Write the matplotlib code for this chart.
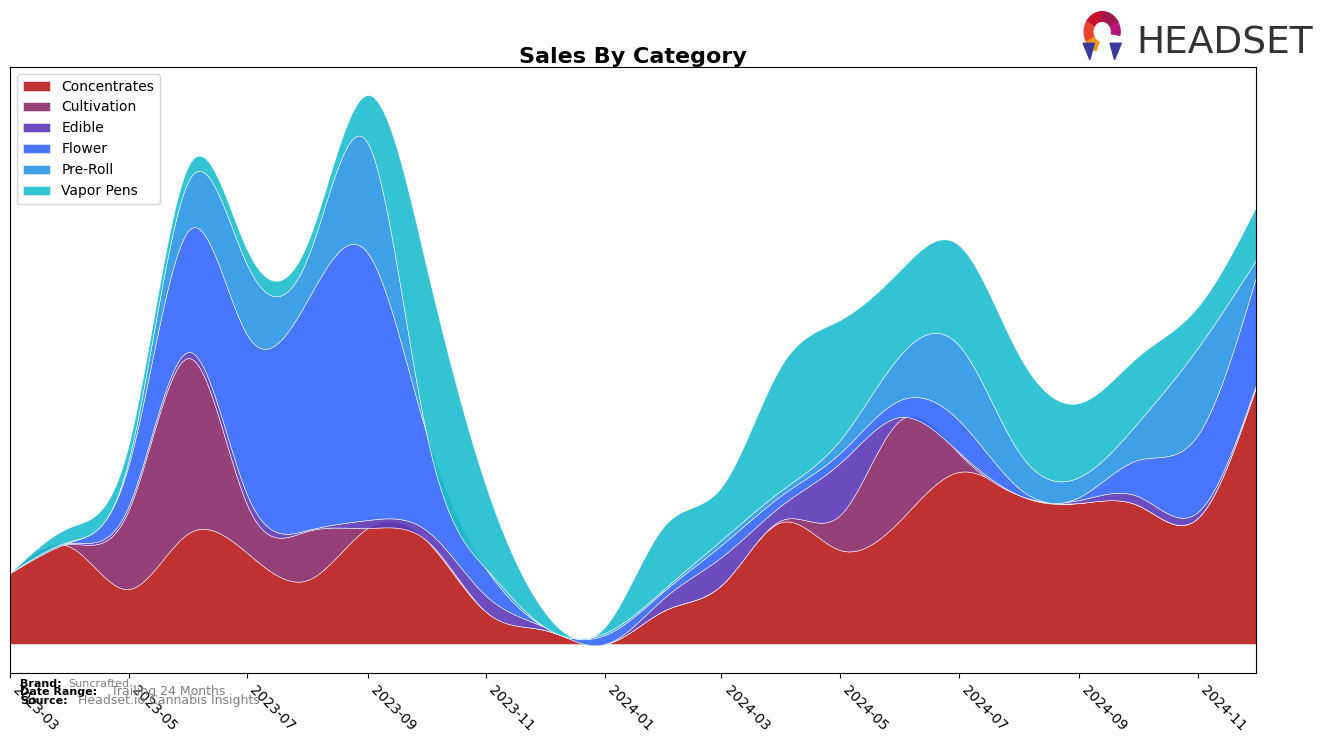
import numpy as np
import pandas as pd
import matplotlib
matplotlib.use("Agg")
import matplotlib.pyplot as plt
import matplotlib.dates as mdates
from matplotlib.patches import Polygon, Wedge

# monthly sales by category (relative units)
months = pd.date_range("2023-03-01", "2024-12-01", freq="MS")
categories = ["Concentrates", "Cultivation", "Edible", "Flower", "Pre-Roll", "Vapor Pens"]
concentrates = [71, 97, 55, 111, 91, 64, 116, 104, 32, 14, 0, 34, 59, 122, 94, 124, 172, 149, 141, 139, 126, 257]
cultivation = [0, 3, 79, 175, 48, 49, 0, 0, 0, 0, 0, 0, 0, 2, 35, 100, 19, 0, 0, 0, 0, 0]
edible = [0, 1, 4, 6, 10, 1, 8, 10, 16, 3, 0, 13, 28, 15, 52, 3, 1, 0, 3, 9, 6, 2]
flower = [0, 1, 41, 122, 160, 230, 267, 98, 27, 0, 9, 7, 12, 10, 10, 17, 32, 7, 3, 36, 77, 108]
pre_roll = [0, 1, 5, 50, 70, 42, 110, 0, 0, 0, 2, 2, 5, 5, 13, 45, 75, 36, 20, 37, 87, 17]
vapor_pens = [0, 14, 15, 15, 15, 15, 48, 167, 82, 15, 6, 63, 53, 125, 120, 85, 100, 97, 74, 66, 41, 53]
series = [concentrates, cultivation, edible, flower, pre_roll, vapor_pens]
colors = ["#B91B1B", "#8A2B69", "#5C38B7", "#3467FF", "#2B96E5", "#1DBDCD"]


def smooth(x, y, n=800):
    """natural cubic spline through the monthly points, for drawing only"""
    x = np.asarray(x, float)
    y = np.asarray(y, float)
    h = np.diff(x)
    k = len(x)
    A = np.zeros((k, k))
    b = np.zeros(k)
    A[0, 0] = A[-1, -1] = 1
    for i in range(1, k - 1):
        A[i, i - 1] = h[i - 1]
        A[i, i] = 2 * (h[i - 1] + h[i])
        A[i, i + 1] = h[i]
        b[i] = 6 * ((y[i + 1] - y[i]) / h[i] - (y[i] - y[i - 1]) / h[i - 1])
    M = np.linalg.solve(A, b)
    xs = np.linspace(x[0], x[-1], n)
    idx = np.clip(np.searchsorted(x, xs) - 1, 0, k - 2)
    x0, x1 = x[idx], x[idx + 1]
    hh = x1 - x0
    ys = (M[idx] * (x1 - xs) ** 3 / (6 * hh) + M[idx + 1] * (xs - x0) ** 3 / (6 * hh)
          + (y[idx] / hh - M[idx] * hh / 6) * (x1 - xs)
          + (y[idx + 1] / hh - M[idx + 1] * hh / 6) * (xs - x0))
    return xs, ys


fig = plt.figure(figsize=(13.2, 7.43), dpi=100)
ax = fig.add_axes([0.0076, 0.0942, 0.9439, 0.8156])

xnum = mdates.date2num(months)
bottom = None
for name, vals, col in zip(categories, series, colors):
    xs, ys = smooth(xnum, vals)
    if bottom is None:
        bottom = np.zeros_like(ys)
    top = bottom + ys
    ax.fill_between(xs, bottom, top, color=col, alpha=0.9, lw=0.4,
                    edgecolor=(1, 1, 1, 0.15), label=name)
    bottom = top

ax.set_xlim(xnum[0], xnum[-1])
ax.set_ylim(-29, 577)
ax.set_yticks([])
ax.xaxis.set_major_locator(mdates.MonthLocator(bymonth=[1, 3, 5, 7, 9, 11]))
ax.xaxis.set_major_formatter(mdates.DateFormatter("%Y-%m"))
for lbl in ax.get_xticklabels():
    lbl.set_rotation(-45)
    lbl.set_ha("left")
    lbl.set_fontsize(10)

ax.set_title("Sales By Category", fontsize=16, fontweight="bold", pad=3)
ax.legend(loc="upper left", fontsize=10)

# footer info
fig.text(0.015, 0.075, "Brand:", fontsize=8, fontweight="bold")
fig.text(0.052, 0.075, "Suncrafted...", fontsize=8, color="gray")
fig.text(0.015, 0.064, "Date Range:", fontsize=8, fontweight="bold")
fig.text(0.084, 0.064, "Trailing 24 Months", fontsize=9, color="gray")
fig.text(0.015, 0.053, "Source:", fontsize=8, fontweight="bold")
fig.text(0.059, 0.053, "Headset.io Cannabis Insights", fontsize=9, color="gray")

# logo
lax = fig.add_axes([0.818, 0.918, 0.034, 0.068])
lax.set_xlim(-1, 1)
lax.set_ylim(-1, 1)
lax.axis("off")
ring = [(90, 150, "#C8102E"), (150, 210, "#E8412C"), (210, 250, "#F7941D"),
        (30, 90, "#A3174F"), (-10, 30, "#B5177A")]
for a0, a1, c in ring:
    lax.add_patch(Wedge((0, 0.15), 0.8, a0, a1, width=0.38, color=c))
lax.add_patch(Polygon([(-0.85, -0.3), (-0.35, -0.3), (-0.55, -0.95)], color="#3A3A9E"))
lax.add_patch(Polygon([(0.85, -0.3), (0.35, -0.3), (0.55, -0.95)], color="#3A3A9E"))
fig.text(0.861, 0.928, "HEADSET", fontsize=27, color="#333333",
         family=["Liberation Sans Narrow", "DejaVu Sans"])

fig.savefig("out.png", dpi=100)
